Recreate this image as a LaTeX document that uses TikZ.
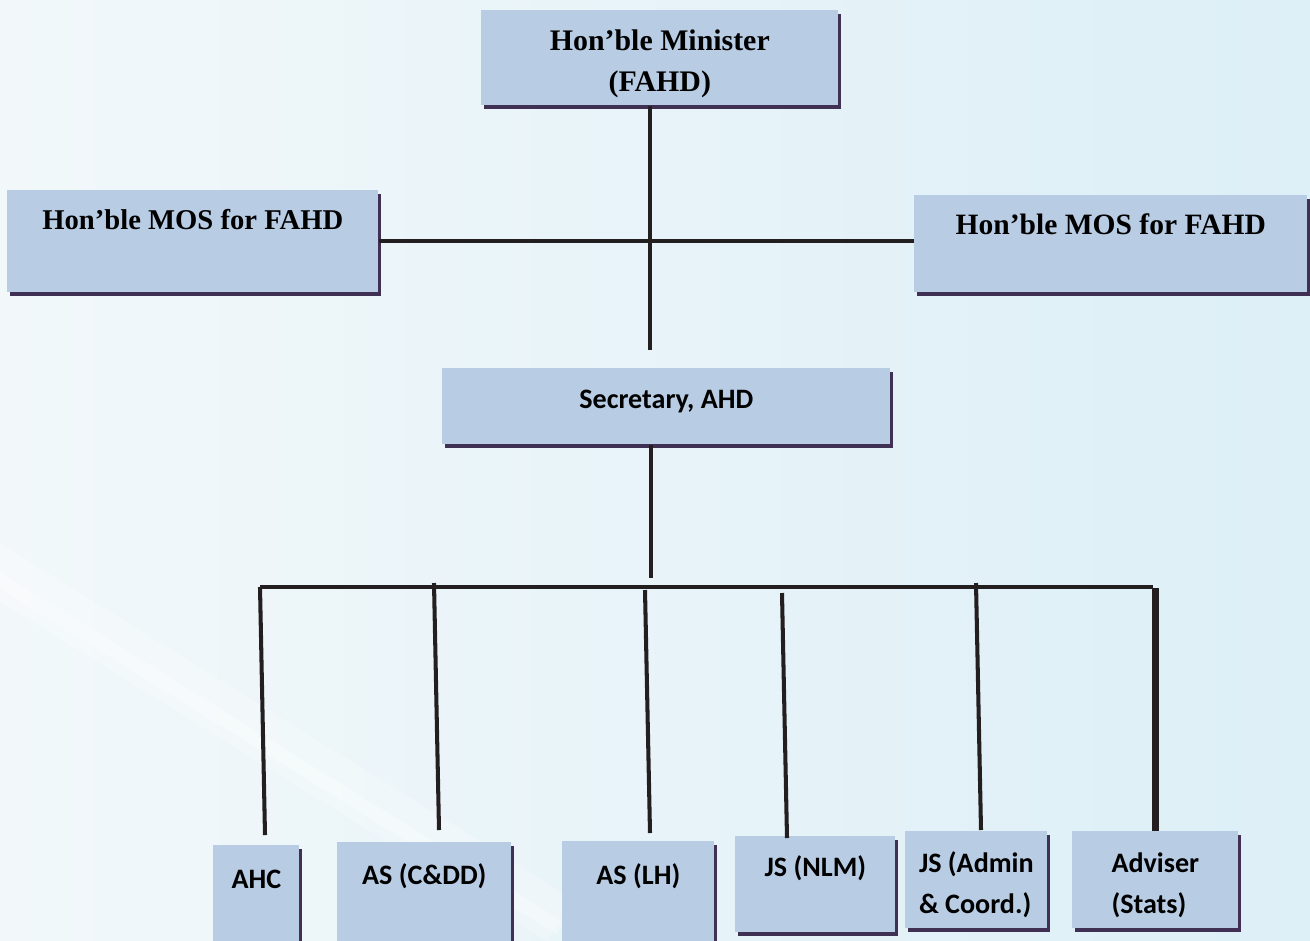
\documentclass[tikz,border=0pt]{standalone}
\usepackage{fontspec}
\setmainfont{Liberation Serif}
\newfontfamily\calibri{Carlito}
\usepackage{tikz}
\usetikzlibrary{shadows}
\usepackage{xcolor}
\definecolor{boxblue}{RGB}{184,204,228}
\definecolor{shadowpurple}{RGB}{64,49,84}
\definecolor{paleleft}{RGB}{242,248,250}
\definecolor{paleright}{RGB}{221,239,247}
\definecolor{inkline}{RGB}{35,31,32}

\begin{document}
\begin{tikzpicture}[x=0.02cm, y=-0.02cm,
  post/.style={fill=boxblue, anchor=north west, inner sep=0pt,
    drop shadow={shadow xshift=0.06cm, shadow yshift=-0.08cm, fill=shadowpurple, opacity=1}},
  seriftext/.style={font=\fontsize{16.3}{23}\selectfont\bfseries},
  sanstext/.style={font=\calibri\fontsize{16}{23}\selectfont\bfseries},
  link/.style={draw=inkline, line width=2.3pt}]
  \useasboundingbox (0,0) rectangle (1310,940);
  \clip (0,0) rectangle (1310,940);
  \shade[left color=paleleft, right color=paleright] (0,0) rectangle (1310,940);
  \draw[white, opacity=0.25, line width=28pt] (-20,560) -- (560,920);
  \draw[white, opacity=0.3, line width=8pt] (-20,568) -- (560,928);

  % top level
  \node[post, font=\fontsize{17}{23}\selectfont\bfseries, align=center,
    minimum width=7.14cm, minimum height=1.9cm, text height=1.62cm, text depth=0.28cm]
    (minister) at (481,10) {Hon’ble Minister\\(FAHD)};
  \node[post, seriftext, minimum width=7.42cm, minimum height=2.04cm,
    text height=0.78cm, text depth=1.26cm] (mosleft) at (7,190) {Hon’ble MOS for FAHD};
  \node[post, seriftext, font=\fontsize{16.8}{23}\selectfont\bfseries, minimum width=7.86cm,
    minimum height=1.94cm, text height=0.78cm, text depth=1.16cm]
    (mosright) at (914,195) {Hon’ble MOS for FAHD};
  \node[post, sanstext, minimum width=8.96cm, minimum height=1.52cm,
    text height=0.8cm, text depth=0.72cm] (secretary) at (442,368) {Secretary, AHD};

  % bottom row
  \node[post, sanstext, minimum width=1.72cm, minimum height=2.1cm,
    text height=0.86cm, text depth=1.24cm] (ahc) at (213,845) {AHC};
  \node[post, sanstext, minimum width=3.48cm, minimum height=2.16cm,
    text height=0.84cm, text depth=1.32cm] (ascdd) at (337,842) {AS (C\&DD)};
  \node[post, sanstext, minimum width=3.04cm, minimum height=2.18cm,
    text height=0.86cm, text depth=1.32cm] (aslh) at (562,841) {AS (LH)};
  \node[post, sanstext, minimum width=3.2cm, minimum height=1.92cm,
    text height=0.8cm, text depth=1.12cm] (jsnlm) at (735,836) {JS (NLM)};
  \node[post, sanstext, align=left, minimum width=2.84cm, minimum height=1.94cm,
    text height=1.64cm, text depth=0.3cm] (jsadmin) at (905,831) {JS (Admin\\\& Coord.)};
  \node[post, sanstext, align=left, minimum width=3.32cm, minimum height=1.94cm,
    text height=1.64cm, text depth=0.3cm] (adviser) at (1072,831) {Adviser\\(Stats)};

  % connectors
  \coordinate (ministerfoot) at (650,350);
  \coordinate (secfoot) at (651,578);
  \coordinate (busleft) at (260,587);
  \coordinate (busright) at (1153,587);
  \draw[link] (ministerfoot |- minister.south) -- (ministerfoot);
  \draw[link] (mosleft.east) -- (mosleft.east -| mosright.west);
  \draw[link] (secfoot |- secretary.south) -- (secfoot);
  \draw[link] (busleft) -- (busright);
  \foreach \n/\xa/\ya/\xb/\yb in {1/260/587/265/835, 2/434/583/439/830, 3/645/590/650/833,
      4/782/593/787/838, 5/976/583/981/830} {
    \coordinate (drop\n) at (\xa,\ya);
    \coordinate (foot\n) at (\xb,\yb);
    \draw[link] (drop\n) -- (foot\n);
  }
  \coordinate (drop6) at (1155,588);
  \coordinate (foot6) at (1155,831);
  \draw[link, line width=4pt] (drop6) -- (foot6);
\end{tikzpicture}
\end{document}
